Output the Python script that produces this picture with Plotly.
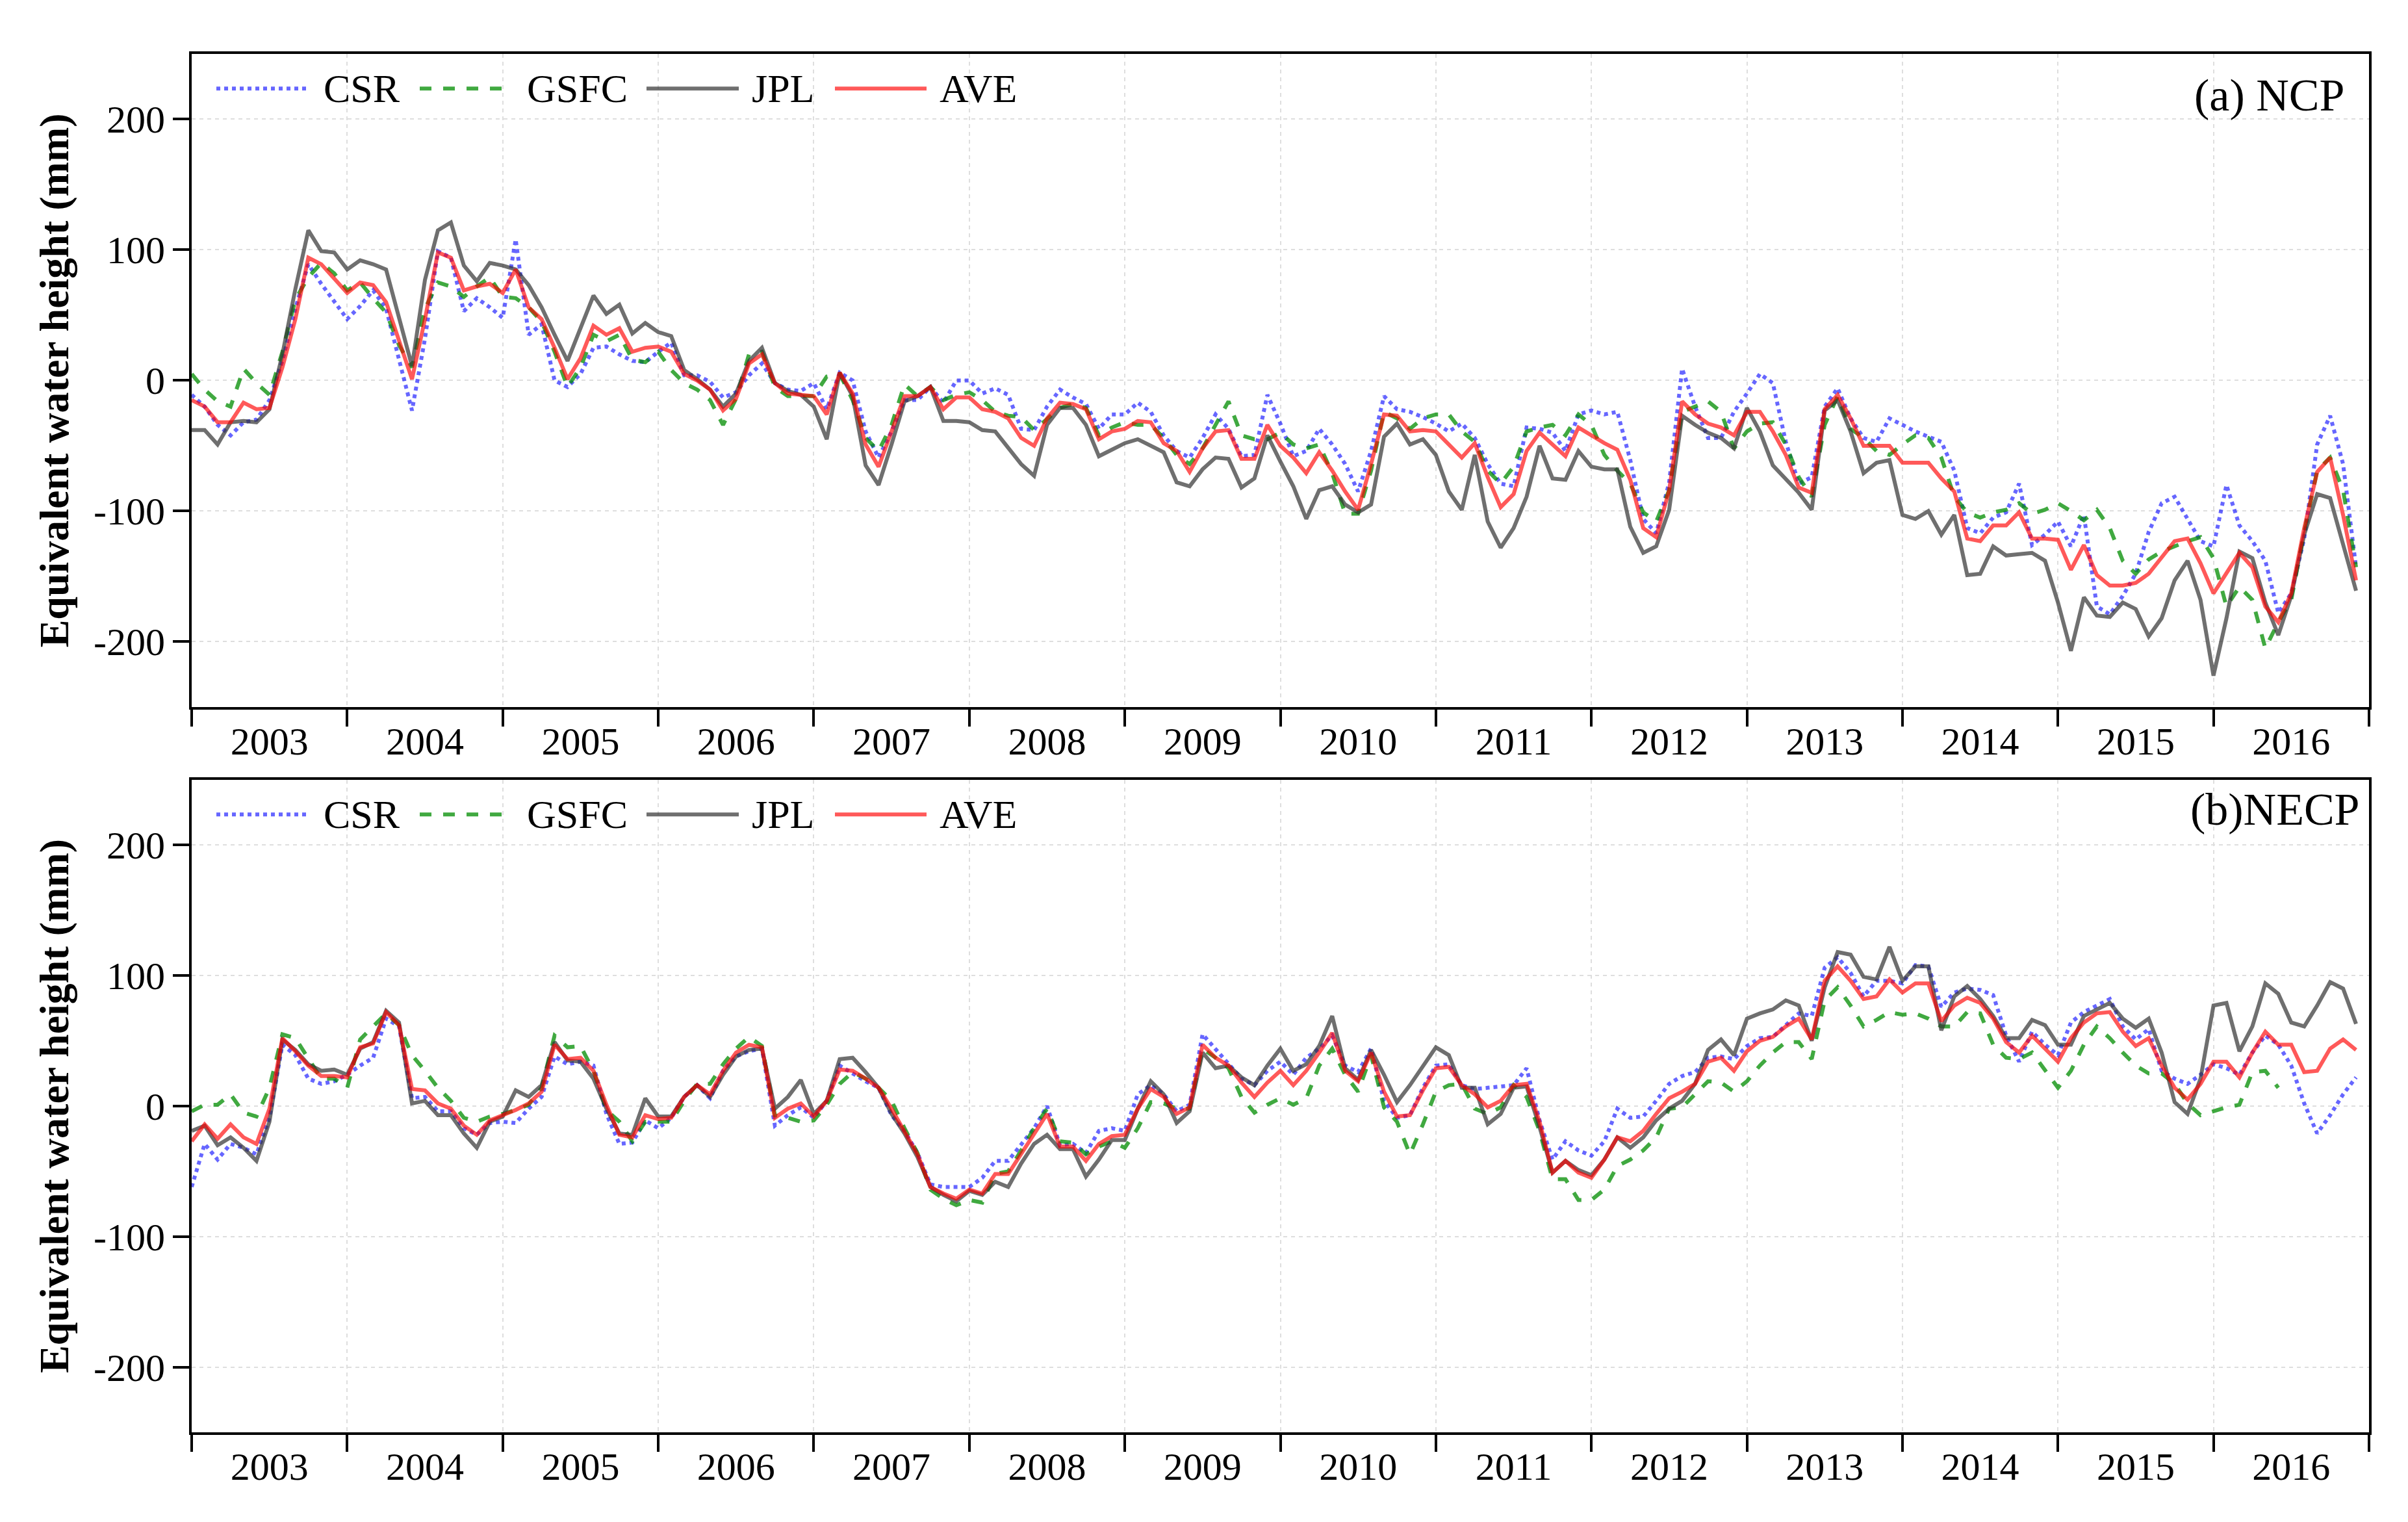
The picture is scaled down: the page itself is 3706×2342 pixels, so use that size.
import numpy as np
import plotly.graph_objects as go

# ---------------- data (monthly, Jan 2003 - Dec 2016) ----------------
months = 2003 + np.arange(168) / 12.0
year_labels = [str(y) for y in range(2003, 2017)]
year_label_pos = [y + 0.5 for y in range(2003, 2017)]
year_bounds = list(range(2003, 2018))
y_ticks = [-200, -100, 0, 100, 200]
y_tick_text = ["-200", "-100", "0", "100", "200"]

ncp_csr = [-11, -20, -34, -42, -32, -30, -15, 15, 55, 89, 74, 60,
           47, 57, 69, 55, 15, -23, 32, 99, 94, 53, 63, 56,
           48, 108, 35, 43, 0, -5, 5, 25, 26, 20, 15, 14,
           22, 29, 4, 4, -1, -13, -9, 4, 13, -2, -7, -8,
           -2, -22, 6, 0, -39, -59, -39, -15, -15, -5, -17, 0,
           0, -10, -6, -11, -37, -38, -20, -7, -13, -18, -37, -26,
           -26, -17, -24, -42, -54, -59, -44, -26, -37, -58, -57, -11,
           -33, -58, -54, -37, -49, -64, -85, -54, -12, -22, -24, -28,
           -33, -39, -33, -44, -64, -79, -81, -36, -37, -40, -54, -26,
           -23, -26, -24, -61, -106, -117, -78, 9, -20, -44, -44, -24,
           -10, 5, -2, -47, -79, -74, -20, -6, -29, -44, -47, -29,
           -34, -39, -43, -47, -69, -113, -117, -105, -101, -79, -126, -118,
           -108, -127, -103, -173, -179, -165, -148, -116, -94, -89, -106, -123,
           -127, -80, -111, -123, -138, -178, -163, -121, -49, -27, -64, -143]

ncp_gsfc = [5, -7, -16, -20, 9, -2, -11, 22, 62, 79, 90, 82,
            69, 75, 63, 52, 27, 10, 55, 75, 72, 64, 72, 79,
            64, 63, 56, 45, 22, -5, 10, 35, 30, 35, 16, 14,
            22, 8, -2, -7, -15, -34, -14, 20, 22, -5, -12, -12,
            -12, 3, 5, -15, -44, -54, -34, -3, -12, -5, -15, -11,
            -9, -15, -24, -27, -28, -38, -29, -21, -18, -21, -42, -36,
            -32, -34, -34, -44, -57, -64, -52, -34, -16, -42, -45, -45,
            -40, -49, -52, -49, -71, -102, -102, -69, -24, -29, -37, -29,
            -26, -26, -39, -47, -69, -79, -66, -39, -36, -34, -42, -26,
            -34, -57, -69, -79, -101, -108, -84, -24, -20, -16, -24, -52,
            -39, -33, -32, -49, -74, -89, -34, -12, -37, -44, -54, -57,
            -49, -42, -44, -59, -89, -101, -105, -101, -99, -94, -102, -99,
            -94, -100, -107, -99, -113, -138, -148, -137, -131, -127, -123, -120,
            -136, -173, -158, -168, -205, -185, -168, -116, -69, -59, -84, -143]

ncp_jpl = [-38, -38, -49, -32, -31, -32, -22, 20, 70, 115, 99, 98,
           85, 92, 89, 85, 48, 11, 77, 115, 121, 88, 76, 90,
           88, 85, 73, 56, 35, 15, 40, 65, 51, 58, 36, 44,
           37, 34, 8, 1, -7, -20, -10, 15, 25, -2, -8, -11,
           -20, -45, 6, -12, -65, -80, -49, -16, -12, -5, -31, -31,
           -32, -38, -39, -52, -64, -73, -34, -21, -21, -34, -58, -53,
           -48, -45, -50, -55, -78, -81, -68, -59, -60, -82, -75, -42,
           -62, -81, -106, -84, -81, -95, -101, -95, -43, -33, -49, -45,
           -57, -85, -99, -57, -108, -128, -113, -89, -50, -75, -76, -54,
           -66, -68, -68, -112, -132, -127, -99, -27, -34, -40, -44, -52,
           -21, -39, -65, -76, -86, -99, -23, -15, -39, -71, -63, -61,
           -103, -106, -100, -118, -103, -149, -148, -127, -134, -133, -132, -138,
           -170, -207, -166, -180, -181, -170, -175, -196, -182, -153, -138, -168,
           -226, -182, -131, -136, -170, -195, -165, -118, -87, -90, -126, -161]

ncp_ave = [-15, -20, -32, -32, -17, -22, -21, 10, 47, 94, 89, 78,
           67, 75, 73, 60, 30, 1, 47, 98, 94, 69, 72, 74,
           67, 85, 56, 47, 25, 1, 17, 42, 35, 40, 22, 25,
           26, 22, 5, 0, -7, -23, -14, 13, 20, -2, -10, -11,
           -12, -26, 6, -10, -49, -66, -39, -12, -12, -5, -22, -13,
           -13, -22, -24, -29, -44, -50, -29, -17, -18, -22, -45, -39,
           -37, -31, -32, -48, -54, -70, -52, -39, -38, -60, -60, -34,
           -50, -59, -71, -55, -69, -85, -99, -64, -26, -27, -39, -38,
           -39, -49, -59, -48, -74, -97, -87, -54, -40, -49, -58, -36,
           -42, -48, -53, -76, -113, -120, -84, -16, -26, -33, -36, -42,
           -24, -24, -39, -57, -82, -86, -22, -11, -29, -50, -50, -50,
           -63, -63, -63, -75, -85, -121, -123, -111, -111, -101, -121, -121,
           -122, -145, -126, -149, -157, -157, -155, -148, -136, -123, -121, -140,
           -163, -148, -132, -143, -173, -185, -163, -113, -70, -59, -103, -153]

necp_csr = [-62, -29, -41, -29, -32, -37, -9, 47, 39, 21, 17, 19,
            24, 31, 37, 67, 61, 6, 7, -4, -4, -17, -22, -13,
            -12, -13, -2, 7, 38, 32, 34, 31, -6, -29, -28, -11,
            -17, -9, 7, 16, 6, 27, 38, 42, 44, -15, -7, -1,
            -9, 4, 31, 25, 19, 14, -7, -19, -36, -60, -62, -62,
            -62, -55, -42, -42, -29, -17, 0, -30, -29, -36, -19, -17,
            -19, 9, 16, 9, -4, 1, 55, 44, 32, 21, 16, 27,
            34, 24, 37, 44, 54, 31, 26, 44, 4, -9, -7, 14,
            31, 32, 16, 13, 14, 15, 16, 29, -11, -41, -27, -34,
            -38, -27, -2, -9, -8, 4, 17, 23, 26, 37, 38, 36,
            46, 52, 53, 62, 71, 69, 106, 114, 102, 84, 96, 96,
            94, 108, 107, 76, 87, 90, 89, 85, 54, 34, 57, 47,
            39, 64, 72, 77, 82, 61, 51, 59, 27, 21, 17, 24,
            32, 29, 24, 41, 54, 47, 31, 2, -21, -7, 9, 22]

necp_gsfc = [-4, 1, 1, 9, -5, -8, 14, 55, 52, 37, 21, 21,
             14, 51, 61, 71, 62, 39, 27, 14, 4, -9, -12, -8,
             -6, -3, 1, 14, 54, 45, 46, 27, -3, -12, -27, -12,
             -12, -12, 4, 17, 17, 32, 44, 53, 46, -7, -9, -12,
             -11, 1, 17, 26, 21, 14, 4, -17, -36, -64, -71, -76,
             -72, -74, -52, -50, -34, -17, -2, -27, -28, -37, -31, -27,
             -32, -17, 3, 2, -2, -2, 44, 37, 29, 7, -5, 1,
             6, 1, 6, 31, 44, 24, 11, 39, -1, -12, -37, -14,
             11, 16, 17, -2, -6, -1, 16, 7, -19, -56, -56, -72,
             -72, -64, -46, -41, -34, -24, -2, -1, 9, 19, 18, 11,
             19, 31, 41, 49, 49, 36, 81, 91, 77, 61, 66, 72,
             70, 71, 67, 61, 61, 72, 71, 47, 37, 36, 41, 27,
             14, 27, 47, 61, 52, 41, 31, 25, 25, 17, 2, -7,
             -4, -1, 1, 26, 27, 14, None, None, None, None, None, None]

necp_jpl = [-19, -15, -30, -24, -32, -42, -12, 51, 43, 32, 27, 28,
            24, 44, 49, 73, 64, 2, 4, -7, -7, -21, -32, -12,
            -8, 12, 7, 16, 49, 35, 34, 21, -2, -21, -22, 6,
            -8, -8, 7, 16, 7, 24, 38, 43, 44, -2, 7, 20,
            -6, 4, 36, 37, 26, 14, -6, -21, -39, -62, -68, -73,
            -65, -68, -58, -62, -44, -29, -22, -33, -33, -54, -41, -26,
            -26, -2, 19, 9, -13, -4, 41, 29, 31, 22, 16, 31,
            44, 27, 32, 46, 69, 29, 20, 43, 24, 3, 16, 31,
            45, 39, 14, 14, -14, -6, 14, 15, -16, -51, -42, -49,
            -53, -41, -24, -32, -24, -11, -2, 4, 17, 43, 51, 39,
            67, 71, 74, 81, 77, 50, 91, 118, 116, 99, 97, 122,
            96, 107, 107, 58, 84, 92, 82, 69, 52, 52, 66, 62,
            47, 47, 69, 74, 79, 67, 60, 67, 41, 3, -6, 21,
            77, 79, 42, 61, 94, 86, 64, 61, 77, 95, 90, 63]

necp_ave = [-27, -14, -25, -14, -24, -29, -2, 52, 42, 31, 23, 23,
            22, 45, 48, 72, 62, 13, 12, 2, -2, -15, -22, -11,
            -7, -3, 2, 11, 47, 36, 37, 27, 1, -22, -24, -7,
            -10, -9, 7, 16, 9, 27, 41, 47, 45, -9, -2, 2,
            -8, 4, 28, 27, 21, 14, -2, -19, -37, -62, -67, -71,
            -64, -67, -52, -52, -37, -22, -6, -31, -31, -42, -29, -23,
            -22, -2, 13, 7, -6, -1, 47, 37, 31, 18, 7, 18,
            27, 16, 27, 41, 56, 27, 19, 41, 11, -8, -7, 12,
            29, 30, 16, 9, -1, 4, 16, 17, -12, -51, -42, -51,
            -55, -41, -24, -27, -19, -6, 6, 11, 17, 34, 37, 27,
            42, 50, 53, 61, 67, 51, 96, 107, 96, 82, 84, 97,
            87, 94, 94, 65, 77, 83, 79, 67, 49, 41, 54, 44,
            34, 52, 64, 71, 72, 57, 46, 52, 31, 14, 5, 17,
            34, 34, 22, 41, 57, 47, 47, 26, 27, 44, 51, 43]

# ---------------- styles ----------------
FONT = "Liberation Serif"
LW = 6
series_style = [
    ("CSR",  dict(color="rgba(0,0,255,0.6)",   width=LW, dash="dot")),
    ("GSFC", dict(color="rgba(0,140,0,0.75)",  width=LW, dash="dash")),
    ("JPL",  dict(color="rgba(50,50,50,0.7)",  width=LW, dash="solid")),
    ("AVE",  dict(color="rgba(255,0,0,0.65)",  width=LW, dash="solid")),
]
panels = [
    ("x", "y", [ncp_csr, ncp_gsfc, ncp_jpl, ncp_ave], "(a) NCP", 0.9893, 0.937, 0.947),
    ("x2", "y2", [necp_csr, necp_gsfc, necp_jpl, necp_ave], "(b)NECP", 0.9964, 0.955, 0.947),
]

fig = go.Figure()
annotations = []
shapes = []
legend_pos = [(0.01134, 0.05312, 0.05998), (0.10475, 0.14533, 0.15339),
              (0.20889, 0.25127, 0.25664), (0.29543, 0.33751, 0.34288)]

for xa, ya, series, label, lx, ly, legy in panels:
    xref = ("x" if xa == "x" else "x2") + " domain"
    yref = ("y" if ya == "y" else "y2") + " domain"
    for (name, line), vals, (sx0, sx1, tx) in zip(series_style, series, legend_pos):
        fig.add_trace(go.Scatter(x=months, y=vals, mode="lines", name=name,
                                 line=line, xaxis=xa, yaxis=ya,
                                 showlegend=False, connectgaps=False))
        shapes.append(dict(type="line", xref=xref, yref=yref,
                           x0=sx0, x1=sx1, y0=legy, y1=legy, line=line))
        annotations.append(dict(text=name, xref=xref, yref=yref, x=tx, y=legy,
                                xanchor="left", yanchor="middle", showarrow=False,
                                font=dict(family=FONT, size=62, color="black")))
    annotations.append(dict(text=label, xref=xref, yref=yref, x=lx, y=ly,
                            xanchor="right", yanchor="middle", showarrow=False,
                            font=dict(family=FONT, size=70, color="black")))
    annotations.append(dict(text="<b>Equivalent water height (mm)</b>",
                            xref="paper", yref=yref, x=-0.0630, y=0.5,
                            xanchor="center", yanchor="middle", textangle=-90,
                            showarrow=False,
                            font=dict(family=FONT, size=64, color="black")))

grid_col = "#dedede"
def xaxis_cfg(anchor):
    return dict(anchor=anchor, domain=[0, 1], range=[2003, 2017],
                tickmode="array", tickvals=year_label_pos, ticktext=year_labels,
                ticks="", ticklabelstandoff=-3,
                showgrid=False, zeroline=False,
                showline=True, linewidth=4, linecolor="black", mirror=True,
                tickfont=dict(family=FONT, size=60, color="black"),
                minor=dict(tickmode="array", tickvals=year_bounds, ticks="outside",
                           ticklen=26, tickwidth=4, tickcolor="black",
                           showgrid=True, gridcolor=grid_col, gridwidth=2,
                           griddash="6px,6px"))

def yaxis_cfg(anchor, domain):
    return dict(anchor=anchor, domain=domain, range=[-250, 250],
                tickmode="array", tickvals=y_ticks, ticktext=y_tick_text,
                ticks="outside", ticklen=25, tickwidth=4, tickcolor="black",
                showgrid=True, gridcolor=grid_col, gridwidth=2, griddash="6px,6px",
                zeroline=False,
                showline=True, linewidth=4, linecolor="black", mirror=True,
                tickfont=dict(family=FONT, size=60, color="black"))

fig.update_layout(
    width=3706, height=2342,
    margin=dict(l=287, r=68, t=75, b=146),
    paper_bgcolor="white", plot_bgcolor="white",
    showlegend=False,
    xaxis=xaxis_cfg("y"),
    yaxis=yaxis_cfg("x", [0.5262, 1.0]),
    xaxis2=xaxis_cfg("y2"),
    yaxis2=yaxis_cfg("x2", [0.0, 0.4734]),
    annotations=annotations,
    shapes=shapes,
)

fig.write_html("out.html")
